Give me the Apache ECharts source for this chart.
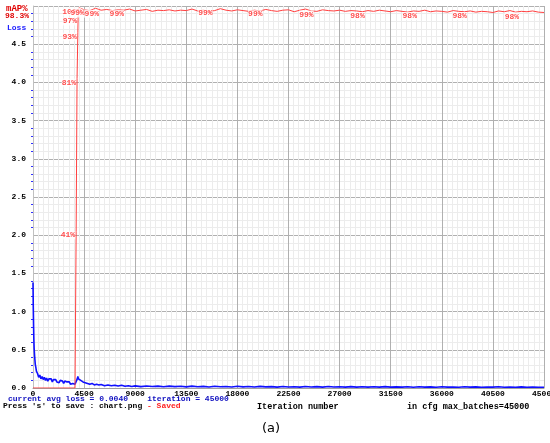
<!DOCTYPE html>
<html>
<head>
<meta charset="utf-8">
<script src="https://cdn.jsdelivr.net/npm/echarts@6/dist/echarts.min.js"></script>
<style>
  html, body { margin: 0; padding: 0; background: #fff; }
  #chart { width: 550px; height: 443px; }
</style>
</head>
<body>
<div id="chart"></div>
<script>
// loss curve (iteration, avg loss)
const lossIter = [0, 25, 50, 75, 100, 150, 200, 250, 300, 400, 500, 600, 700, 800, 900, 1000,
  1100, 1200, 1300, 1400, 1500, 1600, 1700, 1800, 1900, 2000, 2100, 2200, 2300, 2400, 2500,
  2600, 2700, 2800, 2900, 3000, 3100, 3200, 3300, 3400, 3500, 3600, 3700, 3800, 3850, 3900,
  3950, 4000, 4100, 4200, 4300, 4400, 4500, 4600, 4700, 4800, 4900, 5000, 5200, 5400, 5600,
  5800, 6000, 6300, 6600, 6900, 7200, 7500, 7800, 8100, 8400, 8700, 9000, 9500, 10000, 10500,
  11000, 11500, 12000, 12500, 13000, 13500, 14000, 14500, 15000, 15500, 16000, 16500, 17000,
  17500, 18000, 18500, 19000, 19500, 20000, 20500, 21000, 21500, 22000, 22500, 23000, 23500,
  24000, 24500, 25000, 25500, 26000, 26500, 27000, 27500, 28000, 28500, 29000, 29500, 30000,
  30500, 31000, 31500, 32000, 32500, 33000, 33500, 34000, 34500, 35000, 35500, 36000, 36500,
  37000, 37500, 38000, 38500, 39000, 39500, 40000, 40500, 41000, 41500, 42000, 42500, 43000,
  43500, 44000, 44500, 45000];
const lossVal = [1.38, 1.05, 0.82, 0.64, 0.52, 0.40, 0.31, 0.27, 0.22, 0.19, 0.14, 0.17, 0.12, 0.15, 0.11, 0.14,
  0.10, 0.13, 0.09, 0.12, 0.10, 0.12, 0.08, 0.11, 0.09, 0.11, 0.08, 0.10, 0.07, 0.10, 0.08,
  0.09, 0.06, 0.09, 0.07, 0.08, 0.06, 0.08, 0.05, 0.07, 0.06, 0.07, 0.05, 0.05, 0.07, 0.12,
  0.15, 0.12, 0.13, 0.10, 0.11, 0.08, 0.09, 0.07, 0.08, 0.06, 0.07, 0.05, 0.06, 0.04, 0.05,
  0.04, 0.045, 0.03, 0.04, 0.03, 0.035, 0.025, 0.035, 0.022, 0.03, 0.02, 0.028, 0.018, 0.026, 0.02,
  0.025, 0.016, 0.024, 0.018, 0.022, 0.015, 0.024, 0.017, 0.021, 0.014, 0.023, 0.016, 0.02,
  0.014, 0.022, 0.015, 0.019, 0.013, 0.021, 0.015, 0.018, 0.012, 0.02, 0.014, 0.017, 0.012,
  0.02, 0.013, 0.018, 0.012, 0.019, 0.013, 0.016, 0.011, 0.018, 0.012, 0.017, 0.011, 0.016,
  0.012, 0.018, 0.011, 0.015, 0.012, 0.017, 0.01, 0.016, 0.012, 0.015, 0.01, 0.017, 0.011,
  0.014, 0.01, 0.016, 0.011, 0.015, 0.01, 0.014, 0.011, 0.016, 0.01, 0.013, 0.01, 0.015,
  0.01, 0.014, 0.009, 0.01];

// mAP curve (iteration, mAP %)
const mapIter = [0, 3700, 3800, 3880, 3950, 3970, 4050, 4150, 4500, 5000, 5500, 6000, 6500,
  7000, 7500, 8000, 8500, 9000, 9500, 10000, 10500, 11000, 11500, 12000, 12500, 13000, 13500,
  14000, 14500, 15000, 15500, 16000, 16500, 17000, 17500, 18000, 18500, 19000, 19500, 20000,
  20500, 21000, 21500, 22000, 22500, 23000, 23500, 24000, 24500, 25000, 25500, 26000, 26500,
  27000, 27500, 28000, 28500, 29000, 29500, 30000, 30500, 31000, 31500, 32000, 32500, 33000,
  33500, 34000, 34500, 35000, 35500, 36000, 36500, 37000, 37500, 38000, 38500, 39000, 39500,
  40000, 40500, 41000, 41500, 42000, 42500, 43000, 43500, 44000, 44500, 45000];
const mapVal = [0, 0, 41, 81, 93, 97, 99.6, 99.1, 99.0, 98.8, 99.4, 98.9, 99.1,
  98.8, 99.0, 98.9, 99.2, 98.7, 98.9, 99.1, 98.6, 98.9, 98.8, 99.0, 98.7, 98.9, 98.8,
  99.2, 98.7, 98.9, 98.6, 98.8, 99.3, 98.9, 98.7, 99.0, 98.8, 98.6, 98.9, 98.7,
  99.1, 98.8, 98.6, 98.9, 99.0, 98.5, 98.9, 99.2, 98.7, 98.6, 99.0, 98.8, 98.7,
  98.9, 98.6, 98.8, 98.7, 98.5, 98.8, 98.6, 98.9, 98.7, 98.5, 98.8, 98.6, 98.4,
  98.7, 98.6, 98.9, 98.5, 98.7, 98.6, 98.4, 98.8, 98.6, 98.5, 98.7, 98.4, 98.6,
  98.5, 98.3, 98.7, 98.5, 98.8, 98.4, 98.6, 98.5, 98.7, 98.4, 98.3];

// where darknet printed the mAP values
const labelIter = [3800, 3880, 3950, 3970, 4350, 4650, 5900, 8100, 15900, 20300, 24800, 29300, 33900, 38300, 42900];
const labelVal = [41, 81, 93, 97, 99.6, 99.1, 99.0, 98.9, 99.1, 98.9, 98.8, 98.4, 98.4, 98.4, 98.3];

const mono = '"Liberation Mono", "DejaVu Sans Mono", monospace';

const chart = echarts.init(document.getElementById('chart'));

chart.setOption({
  animation: false,
  backgroundColor: '#fff',
  grid: { left: 33, right: 6, top: 6, bottom: 55, containLabel: false, outerBoundsMode: 'none' },
  xAxis: {
    type: 'value', min: 0, max: 45000, interval: 4500,
    axisLine: { show: true, lineStyle: { color: '#a0a0a0' } },
    axisTick: { show: false },
    axisLabel: {
      color: '#000', fontFamily: mono, fontWeight: 'bold', fontSize: 8, margin: 2,
      formatter: v => String(v)
    },
    splitLine: { show: true, lineStyle: { color: '#b0b0b0', width: 1 } },
    minorTick: { show: false, splitNumber: 10 },
    minorSplitLine: { show: true, lineStyle: { color: '#ececec', width: 1 } }
  },
  yAxis: [{
    type: 'value', min: 0, max: 5, interval: 0.5,
    axisLine: { show: true, lineStyle: { color: '#c0c0c0' } },
    axisTick: { show: false },
    minorTick: { show: true, splitNumber: 5, length: 2, lineStyle: { color: '#3030ff', width: 1 } },
    axisLabel: {
      color: '#000', fontFamily: mono, fontWeight: 'bold', fontSize: 8, margin: 7,
      formatter: v => (v >= 5 ? '' : v.toFixed(1))
    },
    splitLine: { show: true, lineStyle: { color: '#b0b0b0', width: 1 } },
    minorSplitLine: { show: true, lineStyle: { color: '#ececec', width: 1 } }
  }, {
    type: 'value', min: 0, max: 100, show: false
  }],
  series: [{
    name: 'Loss', type: 'line', yAxisIndex: 0, showSymbol: false, z: 3,
    data: lossIter.map((x, i) => [x, lossVal[i]]),
    lineStyle: { color: '#1010ff', width: 1.6 }
  }, {
    name: 'mAP', type: 'line', yAxisIndex: 1, showSymbol: false, z: 4,
    data: mapIter.map((x, i) => [x, mapVal[i]]),
    lineStyle: { color: '#ff4040', width: 1 }
  }, {
    name: 'mAP labels', type: 'scatter', yAxisIndex: 1, symbolSize: 0, z: 5,
    data: labelIter.map((x, i) => [x, labelVal[i]]),
    label: {
      show: true, position: 'left', distance: 1, offset: [0, 4],
      color: '#ff2020', fontFamily: mono, fontWeight: 'bold', fontSize: 8,
      backgroundColor: '#fff', padding: 0,
      formatter: p => Math.round(p.value[1]) + '%'
    }
  }],
  graphic: [
    { type: 'text', left: 6, top: 4, style: { text: 'mAP%', fill: '#e00000', font: 'bold 9px ' + mono } },
    { type: 'text', left: 5, top: 12, style: { text: '98.3%', fill: '#e00000', font: 'bold 8px ' + mono } },
    { type: 'text', left: 7, top: 24, style: { text: 'Loss', fill: '#2020ff', font: 'bold 8px ' + mono } },
    { type: 'text', left: 8, top: 395, style: { text: 'current avg loss = 0.0040    iteration = 45000', fill: '#1010c0', font: 'bold 8px ' + mono } },
    { type: 'text', left: 3, top: 402, style: { text: "Press 's' to save : chart.png", fill: '#000', font: 'bold 8px ' + mono } },
    { type: 'text', left: 147, top: 402, style: { text: '- Saved', fill: '#ff2020', font: 'bold 8px ' + mono } },
    { type: 'text', left: 257, top: 402, style: { text: 'Iteration number', fill: '#000', font: 'bold 8.5px ' + mono } },
    { type: 'text', left: 407, top: 402, style: { text: 'in cfg max_batches=45000', fill: '#000', font: 'bold 8.5px ' + mono } },
    { type: 'text', left: 262, top: 422, style: { text: '(a)', fill: '#000', font: '13px "DejaVu Sans", sans-serif' } }
  ]
});
</script>
</body>
</html>
